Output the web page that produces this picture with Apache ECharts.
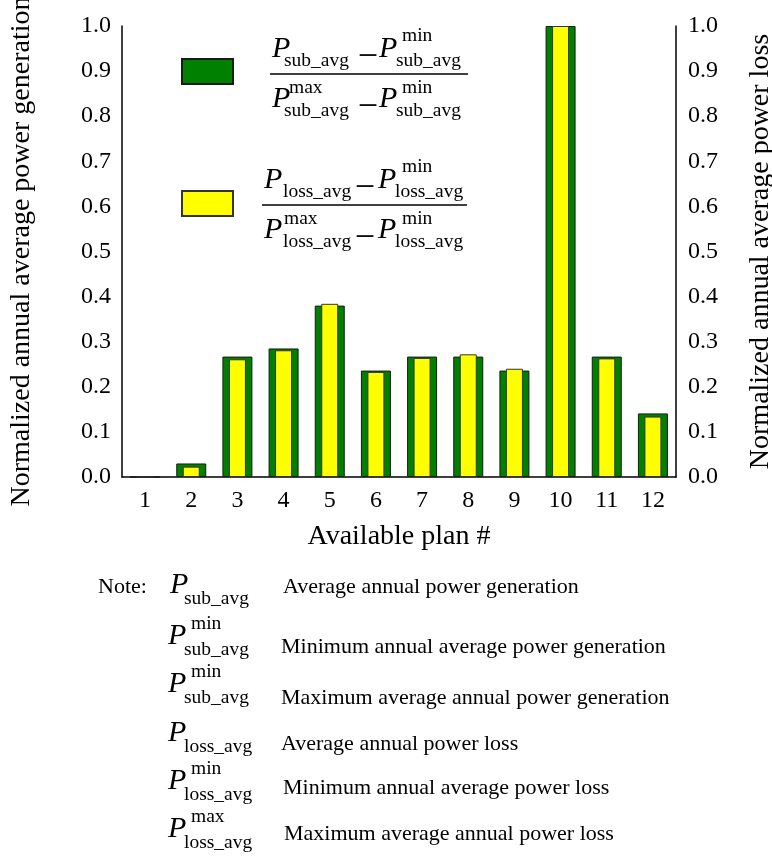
<!DOCTYPE html>
<html>
<head>
<meta charset="utf-8">
<script src="https://cdn.jsdelivr.net/npm/echarts@6/dist/echarts.min.js"></script>
<style>
html,body{margin:0;padding:0;background:#fff;}
#chart{width:772px;height:856px;}
</style>
</head>
<body>
<div id="chart"></div>
<script>
// ---- data ----
const categories = ['1','2','3','4','5','6','7','8','9','10','11','12'];
const subAvgNorm  = [0, 0.030, 0.267, 0.285, 0.380, 0.236, 0.267, 0.267, 0.236, 1.000, 0.267, 0.141];
const lossAvgNorm = [0, 0.023, 0.261, 0.281, 0.384, 0.233, 0.264, 0.272, 0.240, 1.000, 0.263, 0.134];
const seriesNames = ['sub', 'loss'];
const xAxisName = 'Available plan #';
const yLeftName = 'Normalized annual average power generation';
const yRightName = 'Normalized annual average power loss';
const noteLabel = 'Note:';
const noteTerms = [
  {sup: '',    sub: 'sub_avg'},
  {sup: 'min', sub: 'sub_avg'},
  {sup: 'min', sub: 'sub_avg'},
  {sup: '',    sub: 'loss_avg'},
  {sup: 'min', sub: 'loss_avg'},
  {sup: 'max', sub: 'loss_avg'}
];
const noteDescriptions = [
  'Average annual power generation',
  'Minimum annual average power generation',
  'Maximum average annual power generation',
  'Average annual power loss',
  'Minimum annual average power loss',
  'Maximum average annual power loss'
];
const legendFormulas = [
  {num: [{sup: '', sub: 'sub_avg'}, {sup: 'min', sub: 'sub_avg'}], den: [{sup: 'max', sub: 'sub_avg'}, {sup: 'min', sub: 'sub_avg'}]},
  {num: [{sup: '', sub: 'loss_avg'}, {sup: 'min', sub: 'loss_avg'}], den: [{sup: 'max', sub: 'loss_avg'}, {sup: 'min', sub: 'loss_avg'}]}
];

// ---- styling / layout ----
const FONT = '"Liberation Serif", "Times New Roman", serif';
const BF = 0.27; // baseline offset factor for middle-aligned text
const FS_P = 30, FS_S = 19.5, FS_M = 36;

function txt(x, base, text, fs, italic, align) {
  return {
    type: 'text', x: x, y: base - BF * fs, silent: true,
    style: {text: text, fontFamily: FONT, fontSize: fs, fontStyle: italic ? 'italic' : 'normal',
            fill: '#000', align: align || 'left', verticalAlign: 'middle'}
  };
}
function minus(cx, cy) {
  return {type: 'text', x: cx, y: cy + 0.12 * FS_M, silent: true,
    style: {text: '\u2212', fontFamily: FONT, fontSize: FS_M, fill: '#000', align: 'center', verticalAlign: 'middle'}};
}
// term: P with optional sup/sub
function pTerm(term, p) {
  const els = [txt(p.x, p.base, 'P', FS_P, true)];
  if (term.sup) els.push(txt(p.supX, p.supBase, term.sup, FS_S, false));
  if (term.sub) els.push(txt(p.subX, p.subBase, term.sub, FS_S, false));
  return els;
}
function fraction(f, lay) {
  const L = lay.L;
  let els = [];
  const rows = [
    {terms: f.num, base: L - 17, supBase: L - 33, subBase: L - 8, mY: L - 21},
    {terms: f.den, base: L + 33, supBase: L + 19, subBase: L + 42, mY: L + 29}
  ];
  rows.forEach(function (r) {
    els = els.concat(pTerm(r.terms[0], {x: lay.x0, base: r.base, supX: lay.sup1, supBase: r.supBase, subX: lay.sub1, subBase: r.subBase}));
    els.push(minus(lay.mc, r.mY));
    els = els.concat(pTerm(r.terms[1], {x: lay.p2, base: r.base, supX: lay.sup2, supBase: r.supBase, subX: lay.sub2, subBase: r.subBase}));
  });
  els.push({type: 'line', silent: true, shape: {x1: lay.l1, y1: L, x2: lay.l2, y2: L},
            style: {stroke: '#000', lineWidth: 1.3}});
  return els;
}
const fracLayouts = [
  {L: 74,  x0: 272, sub1: 284, sup1: 289, mc: 368, p2: 379, sub2: 396, sup2: 402, l1: 270, l2: 468},
  {L: 205, x0: 264, sub1: 283, sup1: 284, mc: 365, p2: 378, sub2: 395, sup2: 402, l1: 262, l2: 467}
];

let graphics = [];
legendFormulas.forEach(function (f, i) {
  graphics = graphics.concat(fraction(f, fracLayouts[i]));
});

// notes
const noteRowsPBase = [593, 644, 692, 741, 789, 837];
const noteRowsTextY = [587, 647, 698, 744, 788, 834];
const noteRowsTextX = [283, 281, 281, 281, 283, 284];
graphics.push({type: 'text', x: 98, y: 587, silent: true,
  style: {text: noteLabel, fontFamily: FONT, fontSize: 22, fill: '#000', align: 'left', verticalAlign: 'middle'}});
noteTerms.forEach(function (t, i) {
  const b = noteRowsPBase[i];
  graphics = graphics.concat(pTerm(t, {x: i === 0 ? 170 : 168, base: b, supX: 191, supBase: b - 15, subX: 184, subBase: b + 11}));
  graphics.push({type: 'text', x: noteRowsTextX[i], y: noteRowsTextY[i], silent: true,
    style: {text: noteDescriptions[i], fontFamily: FONT, fontSize: 22, fill: '#000', align: 'left', verticalAlign: 'middle'}});
});

const axisLbl = {fontFamily: FONT, fontSize: 24, color: '#000'};
const nameStyle = {fontFamily: FONT, fontSize: 28, color: '#000'};

const chart = echarts.init(document.getElementById('chart'), null, {renderer: 'canvas'});
chart.setOption({
  backgroundColor: '#fff',
  animation: false,
  grid: {left: 122, right: 96, top: 26, bottom: 379, containLabel: false, outerBoundsMode: 'none'},
  legend: {
    show: true, orient: 'vertical', left: 181, top: 58, padding: 0, itemWidth: 51, itemHeight: 25, itemGap: 105,
    selectedMode: false, data: seriesNames, icon: 'rect',
    formatter: function () { return ''; },
    textStyle: {fontSize: 1, lineHeight: 1}
  },
  xAxis: [
    {type: 'category', data: categories, position: 'bottom',
     axisLine: {show: true, lineStyle: {color: '#000', width: 1.5}},
     axisTick: {show: false},
     axisLabel: Object.assign({margin: 12}, axisLbl),
     name: xAxisName, nameLocation: 'middle', nameGap: 46, nameTextStyle: nameStyle,
     splitLine: {show: false}},
    {type: 'category', data: categories, show: false, position: 'bottom'}
  ],
  yAxis: [
    {type: 'value', min: 0, max: 1, interval: 0.1, position: 'left',
     axisLine: {show: true, lineStyle: {color: '#000', width: 1.5}},
     axisTick: {show: false}, splitLine: {show: false},
     axisLabel: Object.assign({margin: 11, formatter: function (v) { return v.toFixed(1); }}, axisLbl),
     name: yLeftName, nameLocation: 'middle', nameGap: 86, nameRotate: 90, nameTextStyle: nameStyle},
    {type: 'value', min: 0, max: 1, interval: 0.1, position: 'right',
     axisLine: {show: true, lineStyle: {color: '#000', width: 1.5}},
     axisTick: {show: false}, splitLine: {show: false},
     axisLabel: Object.assign({margin: 12, formatter: function (v) { return v.toFixed(1); }}, axisLbl),
     name: yRightName, nameLocation: 'middle', nameGap: 71, nameRotate: 90, nameTextStyle: nameStyle}
  ],
  series: [
    {name: seriesNames[0], type: 'bar', xAxisIndex: 0, yAxisIndex: 0, data: subAvgNorm, barWidth: 30,
     itemStyle: {color: '#008000', borderColor: '#1a1a1a', borderWidth: 1}, z: 2},
    {name: seriesNames[1], type: 'bar', xAxisIndex: 1, yAxisIndex: 1, data: lossAvgNorm, barWidth: 17,
     itemStyle: {color: '#ffff00', borderColor: '#333', borderWidth: 1}, z: 3}
  ],
  graphic: graphics
});
</script>
</body>
</html>
